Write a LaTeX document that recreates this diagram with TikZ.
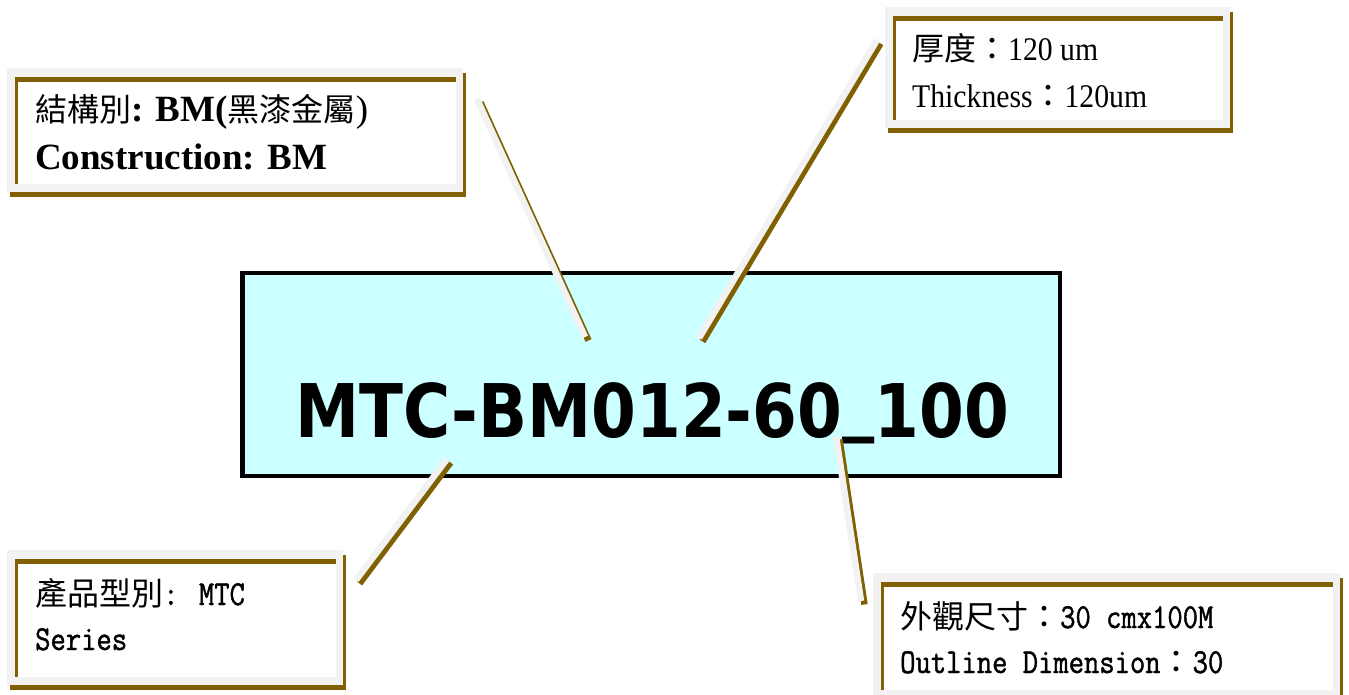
\documentclass[tikz,border=0pt]{standalone}
\usepackage{fontspec}
\setmainfont{Liberation Serif}
\newfontfamily\cjk{Noto Sans CJK TC}
\newfontfamily\tallserif[FakeStretch=0.9]{Liberation Serif}
\newfontfamily\narrowmono[FakeStretch=0.85,FakeBold=1.2]{Latin Modern Mono}
\newfontfamily\codefont[FakeStretch=0.87]{DejaVu Sans}
\usetikzlibrary{positioning, calc}
\definecolor{tagbrown}{HTML}{806000}
\definecolor{taggray}{HTML}{F2F2F2}
\definecolor{chipcyan}{HTML}{CCFFFF}
\newcommand{\zh}[1]{{\cjk\fontsize{32}{38}\selectfont #1}}
% frame of a label: x1, y1, x2, y2 (pixels, y downwards)
\newcommand{\tagframe}[4]{%
  \fill[taggray] (#1,#2) rectangle (#3,#4);
  \fill[white] (#1+11,#2+14) rectangle (#3-7.5,#4-8);
  \fill[tagbrown] (#1+8,#2+9) rectangle (#3-7.5,#2+14);
  \fill[tagbrown] (#1+8,#2+9) rectangle (#1+11,#4-8);
  \fill[tagbrown] (#1+3,#4) rectangle (#3+3,#4+5);
  \fill[tagbrown] (#3,#2+5) rectangle (#3+3,#4+5);
}
\tikzset{
  chip/.style={draw=black, fill=chipcyan, line width=4.5pt, inner sep=0pt,
    minimum width=817.5pt, minimum height=203pt},
  tagtext/.style={anchor=base west, inner sep=0pt},
  lead/.style={draw=taggray, line width=6.5pt},
  leadshadow/.style={draw=tagbrown, line width=6.5pt, transform canvas={shift={(3.5pt,-3.5pt)}}},
}

\begin{document}
\begin{tikzpicture}[x=1pt,y=-1pt]
\useasboundingbox (0,0) rectangle (1349,695);
% label frames
\tagframe{7}{68}{463}{192}
\tagframe{885}{7}{1230}{128}
\tagframe{7}{550}{343}{685}
\tagframe{873}{573}{1340}{698}
% part number
\node[chip] (chip) at (651.25,374.5) {};
\node[anchor=base, inner sep=0pt, font=\codefont\bfseries\fontsize{74}{80}\selectfont] (code) at (652,437) {MTC-BM012-60\raisebox{0.14em}{\_}100};
% leaders
\coordinate (s1a) at (477,99);  \coordinate (s1b) at (585,337);
\coordinate (t1a) at (877,40);  \coordinate (t1b) at (699,338);
\coordinate (m1a) at (447,459); \coordinate (m1b) at (356,580);
\coordinate (o1a) at (836,436); \coordinate (o1b) at (861,601);
\draw[leadshadow] (s1a) -- (s1b);
\draw[leadshadow] (t1a) -- (t1b);
\draw[leadshadow] (m1a) -- (m1b);
\draw[leadshadow] (o1a) -- (o1b);
\draw[lead] (s1a) -- (s1b);
\draw[lead] (t1a) -- (t1b);
\draw[lead] (m1a) -- (m1b);
\draw[lead] (o1a) -- (o1b);
% label texts
\node[tagtext, font=\fontsize{37}{44}\selectfont] (structzh) at (35,122) {\zh{結構別}\textbf{: BM(}\zh{黑漆金屬})};
\node[tagtext, font=\fontsize{37}{44}\selectfont] (structen) at (35,170) {\textbf{Construction: BM}};
\node[tagtext, font=\tallserif\fontsize{33}{40}\selectfont] (thickzh) at (912,61) {\zh{厚度：}120 um};
\node[tagtext, font=\tallserif\fontsize{33}{40}\selectfont] (thicken) at (912,108) {Thickness\zh{：}120um};
\node[tagtext, font=\narrowmono\fontsize{35}{42}\selectfont] (serieszh) at (35,605) {\zh{產品型別}: MTC};
\node[tagtext, font=\narrowmono\fontsize{35}{42}\selectfont] (seriesen) at (35,650) {Series};
\node[tagtext, font=\narrowmono\fontsize{35}{42}\selectfont] (sizezh) at (900,628) {\zh{外觀尺寸：}30 cmx100M};
\node[tagtext, font=\narrowmono\fontsize{35}{42}\selectfont] (sizeen) at (900,673) {Outline Dimension\zh{：}30};
\end{tikzpicture}
\end{document}
